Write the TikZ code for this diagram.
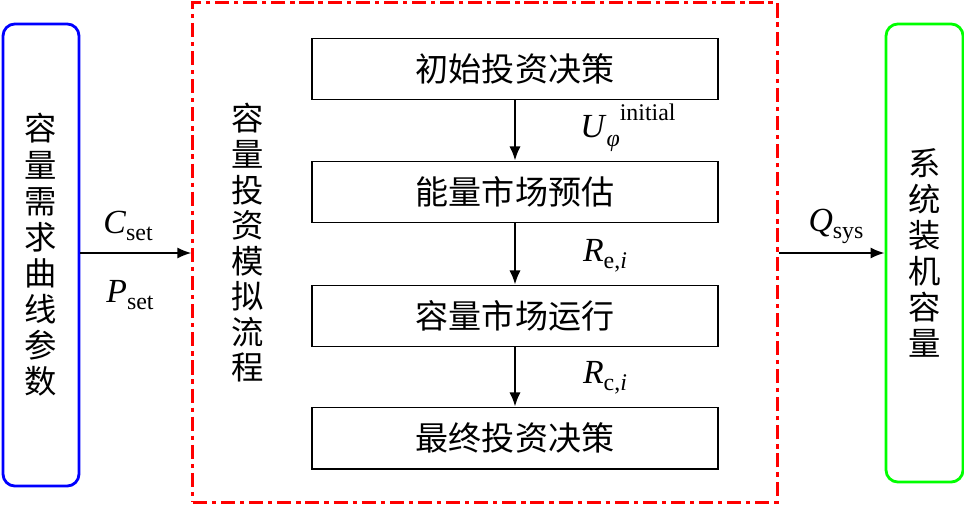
\documentclass[tikz,border=0pt]{standalone}
\usepackage{fontspec}
\setmainfont{Liberation Serif}
\newfontfamily\cjk{Noto Sans CJK SC}
\usetikzlibrary{arrows.meta}
\newcommand{\subs}[2]{\textit{#1}\raisebox{-0.45ex}{\fontsize{17}{17}\selectfont #2}}
\begin{document}
\begin{tikzpicture}[x=0.025cm, y=-0.025cm, >={Latex[length=10pt,width=8pt]}]
        \tikzset{
            block/.style={draw, line width=1.4pt, minimum width=10.15cm, minimum height=1.525cm, font=\cjk\fontsize{23.5}{26}\selectfont},
            side/.style={draw, line width=2pt, rounded corners=0.3cm, minimum width=1.9cm, align=center, font=\cjk\fontsize{23}{25.7}\selectfont},
            frame/.style={draw=red, line width=2.2pt, dash pattern=on 10pt off 3.5pt on 3pt off 3.5pt, minimum width=14.6cm, minimum height=12.475cm},
            arrow/.style={->, line width=1.4pt},
            lbl/.style={font=\fontsize{24}{24}\selectfont}
        }
        \useasboundingbox (0,0) rectangle (964,506);

        \node[side, draw=blue, minimum height=11.55cm] (para) at (41,255) {容\\量\\需\\求\\曲\\线\\参\\数};
        \node[frame] (sim) at (485,252.5) {};
        \node[side, draw=green, minimum height=11.45cm, minimum width=1.925cm] (cap) at (924.5,253) {系\\统\\装\\机\\容\\量};

        \node[align=center, font=\cjk\fontsize{23}{25.3}\selectfont] (flow) at (248,243) {容\\量\\投\\资\\模\\拟\\流\\程};

        \node[block] (init) at (515,69) {初始投资决策};
        \node[block] (est) at (515,192) {能量市场预估};
        \node[block] (run) at (515,316) {容量市场运行};
        \node[block] (fin) at (515,438) {最终投资决策};

        \draw[arrow] (init) -- (est);
        \draw[arrow] (est) -- (run);
        \draw[arrow] (run) -- (fin);

        \draw[arrow] (para.east |- 0,253) -- (sim.west |- 0,253);
        \draw[arrow] (sim.east |- 0,253) -- (cap.west |- 0,253);

        \node[lbl] (cset) at (128,226) {\subs{C}{set}};
        \node[lbl] (pset) at (130,295) {\subs{P}{set}};
        \node[lbl] (qsys) at (836,226) {\subs{Q}{sys}};
        \node[lbl] (uini) at (628,128) {\textit{U}\raisebox{-0.6ex}{\fontsize{17}{17}\selectfont\textit{φ}}\raisebox{1.1ex}{\fontsize{17}{17}\selectfont initial}};
        \node[lbl] (rei) at (605,256) {\subs{R}{e,\textit{i}}};
        \node[lbl] (rci) at (605,378) {\subs{R}{c,\textit{i}}};
    \end{tikzpicture}
\end{document}
